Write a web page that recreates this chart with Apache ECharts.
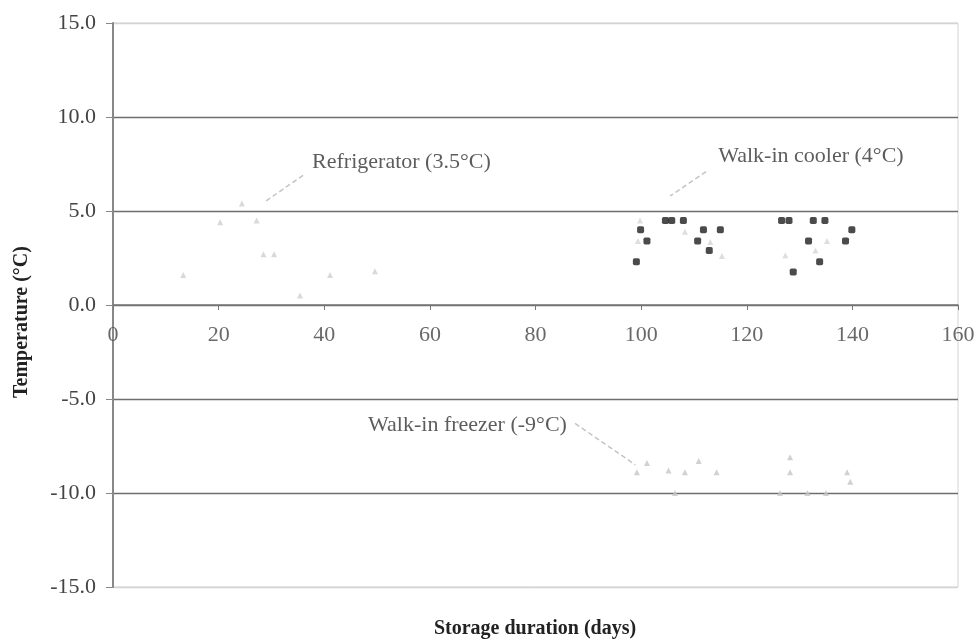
<!DOCTYPE html>
<html>
<head>
<meta charset="utf-8">
<script src="https://cdn.jsdelivr.net/npm/echarts@6/dist/echarts.min.js"></script>
<style>
html,body{margin:0;padding:0;background:#fff;}
#chart{width:979px;height:639px;}
</style>
</head>
<body>
<div id="chart"></div>
<script>
// ---- data ----
var xTicks = [0, 20, 40, 60, 80, 100, 120, 140, 160];
var yTicks = [-15, -10, -5, 0, 5, 10, 15];

var coolerDays  = [99.1, 99.9, 101.1, 104.6, 105.8, 108.0, 110.7, 111.8, 112.9, 115.0, 126.6, 128.0, 128.8, 131.7, 132.6, 133.8, 134.8, 138.7, 139.9];
var coolerTemps = [2.3, 4.0, 3.4, 4.5, 4.5, 4.5, 3.4, 4.0, 2.9, 4.0, 4.5, 4.5, 1.75, 3.4, 4.5, 2.3, 4.5, 3.4, 4.0];

var coolerFaintDays  = [99.8, 99.4, 108.3, 113.1, 115.3, 127.3, 135.2, 133.0];
var coolerFaintTemps = [4.5, 3.4, 3.9, 3.35, 2.6, 2.65, 3.4, 2.9];

var fridgeDays  = [13.3, 20.3, 24.4, 27.2, 28.5, 30.5, 35.4, 41.1, 49.6];
var fridgeTemps = [1.6, 4.4, 5.4, 4.5, 2.7, 2.7, 0.5, 1.6, 1.8];

var freezerDays  = [99.2, 101.1, 105.2, 106.4, 108.3, 110.9, 114.3, 126.3, 128.2, 128.2, 131.5, 135.0, 139.0, 139.6];
var freezerTemps = [-8.9, -8.4, -8.8, -10.0, -8.9, -8.3, -8.9, -10.0, -8.9, -8.1, -10.0, -10.0, -8.9, -9.4];

var annoTexts = ['Refrigerator (3.5°C)', 'Walk-in cooler (4°C)', 'Walk-in freezer (-9°C)'];
var annoAt    = [[37.7, 7.6], [114.6, 7.9], [48.3, -6.4]];
var leaderFrom = [[36.0, 6.9], [112.3, 7.1], [87.5, -6.3]];
var leaderTo   = [[28.8, 5.5], [105.5, 5.8], [98.9, -8.5]];

function pairs(xs, ys){ return xs.map(function(x,i){ return [x, ys[i]]; }); }

var serif = '"Liberation Serif", "DejaVu Serif", serif';

var series = [];
for (var i = 0; i < annoTexts.length; i++) {
  series.push({
    type: 'line', data: [leaderFrom[i], leaderTo[i]], symbol: 'none', silent: true,
    lineStyle: {color: '#c4c4c4', width: 1.5, type: [5, 3]}, z: 1
  });
}
series.push({
  type: 'scatter', data: pairs(fridgeDays, fridgeTemps), symbol: 'triangle', symbolSize: 6,
  itemStyle: {color: '#cfcfcf'}, z: 2
});
series.push({
  type: 'scatter', data: pairs(freezerDays, freezerTemps), symbol: 'triangle', symbolSize: 6,
  itemStyle: {color: '#c6c6c6'}, z: 2
});
series.push({
  type: 'scatter', data: pairs(coolerFaintDays, coolerFaintTemps), symbol: 'triangle', symbolSize: 6,
  itemStyle: {color: '#d6d6d6'}, z: 2
});
series.push({
  type: 'scatter', data: pairs(coolerDays, coolerTemps), symbol: 'roundRect', symbolSize: 7,
  itemStyle: {color: '#1e1e1e'}, z: 3
});
// annotation texts
series.push({
  type: 'scatter', symbolSize: 0, silent: true, z: 4,
  data: annoAt.map(function(p, i){ return {value: p, name: annoTexts[i]}; }),
  label: {
    show: true, position: 'right', distance: 0, formatter: '{b}',
    fontFamily: serif, fontSize: 22, color: '#333'
  }
});
// x tick labels, placed on the zero line (axis crosses at 0)
series.push({
  type: 'scatter', symbolSize: 0, silent: true, z: 4,
  data: xTicks.map(function(t){ return {value: [t, 0], name: String(t)}; }),
  label: {
    show: true, position: 'bottom', distance: 19, formatter: '{b}',
    fontFamily: serif, fontSize: 22, color: '#444'
  }
});

var chart = echarts.init(document.getElementById('chart'));
chart.setOption({
  animation: false,
  backgroundColor: '#fff',
  grid: {left: 113, right: 21, top: 23, bottom: 52, show: true, borderColor: '#d4d4d4', borderWidth: 1},
  xAxis: {
    type: 'value', min: xTicks[0], max: xTicks[xTicks.length - 1], interval: 20,
    axisLine: {show: true, onZero: true, lineStyle: {color: '#777', width: 1.5}},
    axisTick: {show: true, length: 5, lineStyle: {color: '#777'}},
    axisLabel: {show: false},
    splitLine: {show: false}
  },
  yAxis: {
    type: 'value', min: yTicks[0], max: yTicks[yTicks.length - 1], interval: 5,
    axisLine: {show: true, lineStyle: {color: '#888', width: 2}},
    axisTick: {show: true, length: 7, lineStyle: {color: '#888'}},
    axisLabel: {fontFamily: serif, fontSize: 22, color: '#444', margin: 17,
      formatter: function(v){ return v.toFixed(1); }},
    splitLine: {show: true, lineStyle: {color: ['#d4d4d4', '#6e6e6e', '#6e6e6e', '#6e6e6e', '#6e6e6e', '#6e6e6e', '#d4d4d4'], width: 1.3}}
  },
  graphic: [{
    type: 'text', x: 535, y: 629,
    style: {text: 'Storage duration (days)', fontFamily: serif, fontSize: 20, fontWeight: 'bold', fill: '#222', align: 'center', verticalAlign: 'middle'}
  }, {
    type: 'text', x: 22, y: 322, rotation: Math.PI / 2,
    style: {text: 'Temperature (°C)', fontFamily: serif, fontSize: 20, fontWeight: 'bold', fill: '#222', align: 'center', verticalAlign: 'middle'}
  }],
  series: series
});
</script>
</body>
</html>
